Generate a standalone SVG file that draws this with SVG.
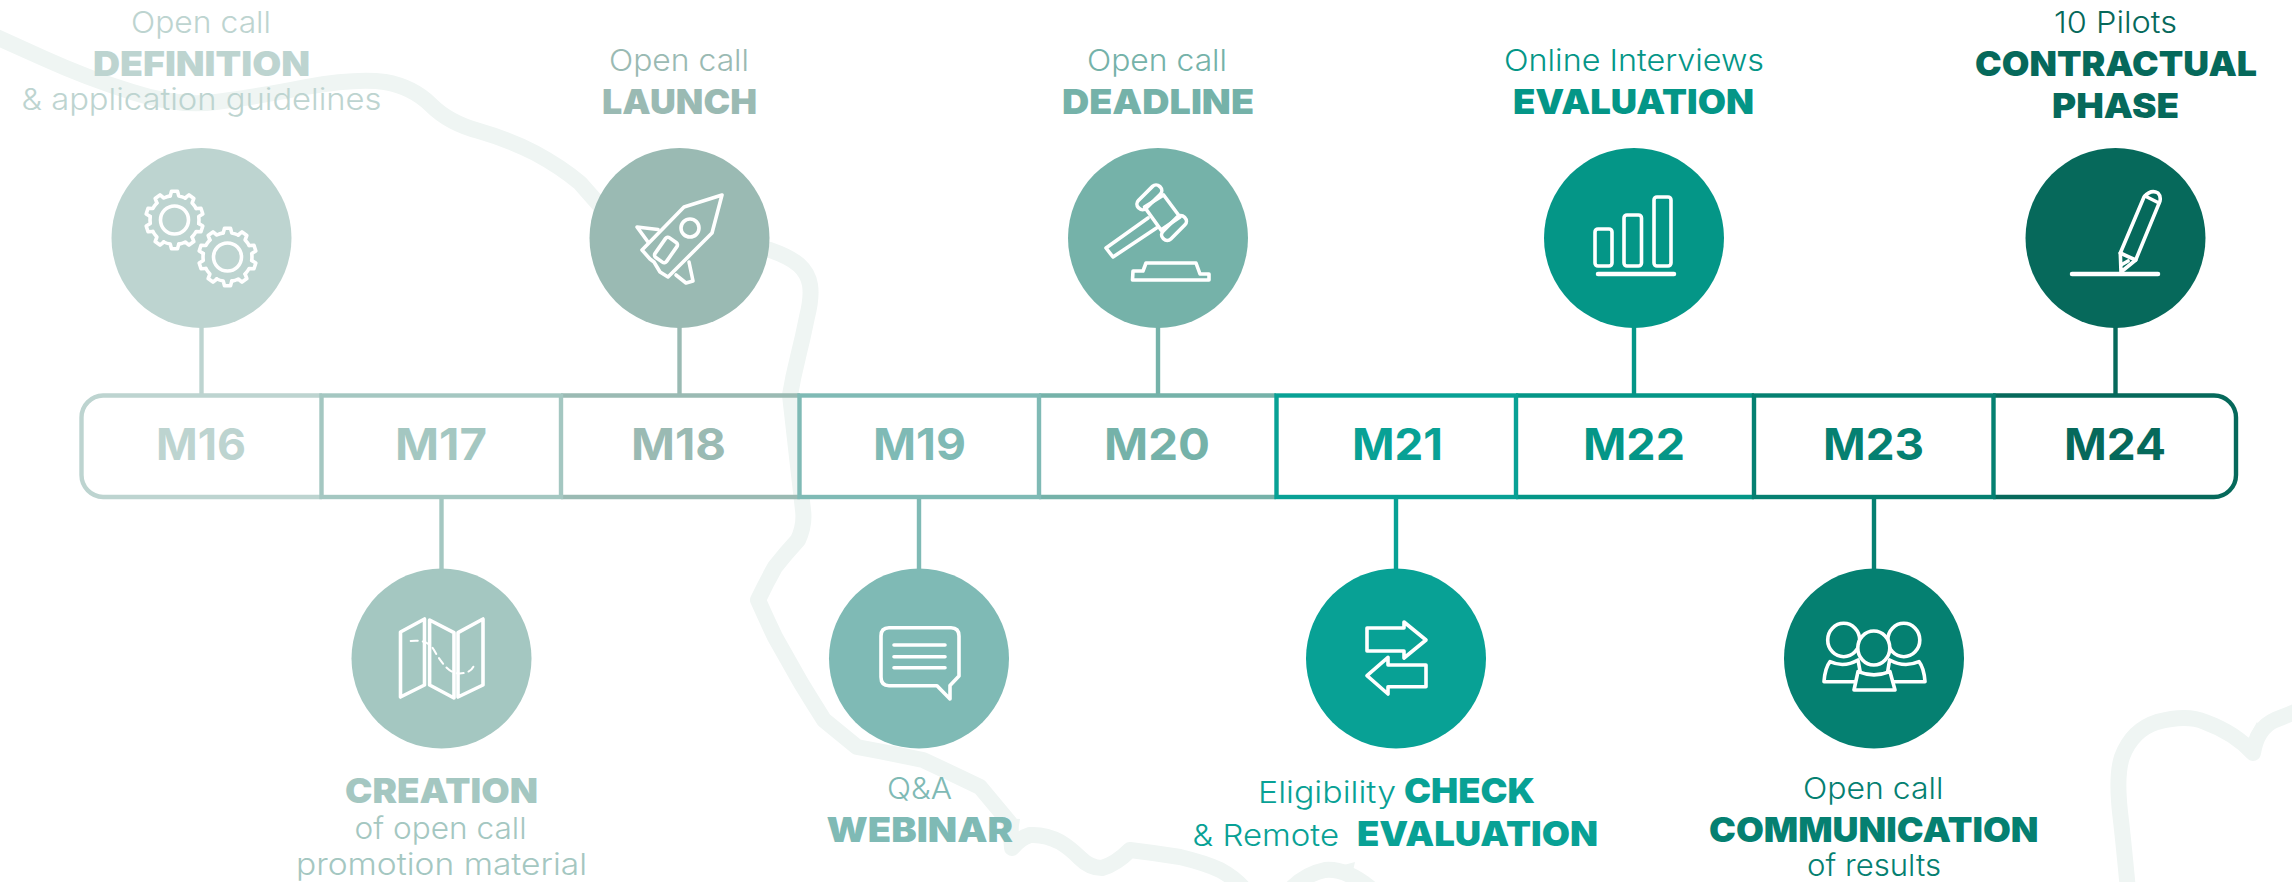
<svg xmlns="http://www.w3.org/2000/svg" xmlns:xlink="http://www.w3.org/1999/xlink" width="2292" height="882" viewBox="0 0 2292 882">
<style>
text{font-family:"Inter","Liberation Sans",sans-serif}
.l{font-size:30px;font-weight:300}
.b{font-size:34px;font-weight:900}
.m{font-size:44px;font-weight:700}
.wave{fill:none;stroke:#EFF5F3;stroke-width:16;stroke-linecap:round;stroke-linejoin:round}
.spike{fill:#EFF5F3}
.ic{fill:none;stroke:#fff;stroke-width:3.600;stroke-linejoin:round;stroke-linecap:round}
.cell{fill:none;stroke-width:4.400}
.conn{stroke-width:4.400;fill:none}
.k16{fill:#BDD4D0}.s16{stroke:#BDD4D0}
.k17{fill:#A4C7C1}.s17{stroke:#A4C7C1}
.k18{fill:#9ABAB3}.s18{stroke:#9ABAB3}
.k19{fill:#7FBAB5}.s19{stroke:#7FBAB5}
.k20{fill:#75B2A9}.s20{stroke:#75B2A9}
.k21{fill:#08A195}.s21{stroke:#08A195}
.k22{fill:#049687}.s22{stroke:#049687}
.k23{fill:#058071}.s23{stroke:#058071}
.k24{fill:#06695B}.s24{stroke:#06695B}
</style>
<defs>
<g id="gear">
<circle r="14" class="ic"/>
<g class="ic">
<path id="tooth" d="M-4.250-24.100L-3-28.800L3-28.800L4.250-24.100A24.500 24.500 0 0 1 10.740-22"/>
<use href="#tooth" transform="rotate(36)"/><use href="#tooth" transform="rotate(72)"/><use href="#tooth" transform="rotate(108)"/><use href="#tooth" transform="rotate(144)"/><use href="#tooth" transform="rotate(180)"/><use href="#tooth" transform="rotate(216)"/><use href="#tooth" transform="rotate(252)"/><use href="#tooth" transform="rotate(288)"/><use href="#tooth" transform="rotate(324)"/>
</g>
</g>
</defs>
<rect width="2292" height="882" fill="#fff"/>
<g id="background">
<path class="wave" d="M-8,35L43,58Q87,78 132,92Q178,107 216,102Q255,97 306,87Q357,78 385,82Q413,87 431,105Q449,123 479,131Q510,140 535,153Q561,167 580,183L602,208L700,240L770,250Q790,257 799,265Q808,273 810,285Q812,297 807,317Q803,337 798,357Q793,377 790,395L803,510Q805,525 798,540Q786,553 775,567Q766,583 758,600Q766,618 775,637Q788,660 801,683Q812,701 824,720Q840,733 857,747Q890,753 923,760Q951,773 980,787Q995,805 1010,823L1012,848Q1020,838 1030,835Q1045,834 1060,842Q1070,848 1080,858Q1090,868 1102,868Q1116,864 1130,850Q1155,853 1180,857Q1205,863 1220,870Q1235,878 1245,890"/>
<path class="spike" d="M1003,818L1020,819L1018,832L1012,848Z"/>
<path class="wave" d="M1290,890Q1305,874 1325,870Q1345,868 1370,888"/>
<path class="spike" d="M1340,866L1355,862L1352,875Z"/>
<path class="wave" d="M2128,890Q2123,837 2120,812Q2116,775 2122,757Q2132,730 2157,722Q2187,714 2205,722Q2235,733 2253,753Q2257,728 2275,720L2300,710"/>
<path class="spike" d="M2250,735L2257,722L2262,732Z"/>
</g>
<g id="connectors">
<path class="conn s16" d="M201.500,327V394"/>
<path class="conn s17" d="M441.500,497V569"/>
<path class="conn s18" d="M679.500,327V394"/>
<path class="conn s19" d="M919,497V569"/>
<path class="conn s20" d="M1158,327V394"/>
<path class="conn s21" d="M1396,497V569"/>
<path class="conn s22" d="M1634,327V394"/>
<path class="conn s23" d="M1874,497V569"/>
<path class="conn s24" d="M2115.500,327V394"/>
</g>
<g id="m16">
<path class="cell s16" style="fill:#fff" d="M322,395.500H103A22,22 0 0 0 81.500,417.500V475A22,22 0 0 0 103,497H322"/>
<text class="m k16" x="156" y="460" textLength="90" lengthAdjust="spacingAndGlyphs">M16</text>
<circle class="k16" cx="201.500" cy="238" r="90"/>
<use href="#gear" transform="translate(174.500,220)"/><use href="#gear" transform="translate(227.500,257)"/>
<text class="l k16" x="131" y="33" textLength="140" lengthAdjust="spacingAndGlyphs">Open call</text>
<text class="b k16" x="93" y="76" textLength="217" lengthAdjust="spacingAndGlyphs">DEFINITION</text>
<text class="l k16" x="21.500" y="110" textLength="360" lengthAdjust="spacingAndGlyphs">&amp; application guidelines</text>
</g>
<g id="m18">
<path class="cell s18" style="fill:#fff" d="M561,395.500H800M800,497H561"/>
<text class="m k18" x="631" y="460" textLength="95" lengthAdjust="spacingAndGlyphs">M18</text>
<circle class="k18" cx="679.500" cy="238" r="90"/>
<g class="ic">
<path d="M722,195L684,207L642,250L650,259L654,262L660,272L668,277L712,233Z"/>
<path d="M658,229.500L637,227L648,242"/><path d="M689,262L693,281L686,283L676,275"/>
<circle cx="690" cy="228" r="9"/>
<rect x="659" y="238" width="14" height="24" rx="3" transform="rotate(35 666 250)"/>
</g>
<text class="l k18" x="609" y="71" textLength="140" lengthAdjust="spacingAndGlyphs">Open call</text>
<text class="b k18" x="602" y="114" textLength="155" lengthAdjust="spacingAndGlyphs">LAUNCH</text>
</g>
<g id="m20">
<path class="cell s20" style="fill:#fff" d="M1039,395.500H1276M1276,497H1039"/>
<text class="m k20" x="1104" y="460" textLength="106" lengthAdjust="spacingAndGlyphs">M20</text>
<circle class="k20" cx="1158" cy="238" r="90"/>
<g class="ic">
<path d="M1148,218L1106,248L1113,257L1156.500,228"/>
<path d="M1144.500,207L1163.600,195L1180,217L1161,230Z"/>
<rect x="1134" y="192" width="30" height="11" rx="5" transform="rotate(-45 1149 197)"/>
<rect x="1159" y="222.500" width="30" height="11" rx="5" transform="rotate(-45 1174 228)"/>
<path d="M1132.500,280H1209V274H1200L1196,263H1146L1143,271H1133Z"/>
</g>
<text class="l k20" x="1087" y="71" textLength="140" lengthAdjust="spacingAndGlyphs">Open call</text>
<text class="b k20" x="1062" y="114" textLength="192" lengthAdjust="spacingAndGlyphs">DEADLINE</text>
</g>
<g id="m22">
<path class="cell s22" style="fill:#fff" d="M1516,395.500H1754M1754,497H1516"/>
<text class="m k22" x="1583" y="460" textLength="102" lengthAdjust="spacingAndGlyphs">M22</text>
<circle class="k22" cx="1634" cy="238" r="90"/>
<g class="ic">
<rect x="1595" y="229" width="17" height="37" rx="3"/>
<rect x="1624" y="215" width="17.500" height="51" rx="3"/>
<rect x="1654" y="197" width="17" height="69" rx="3"/>
<path d="M1598,274H1674" style="stroke-width:4.500"/>
</g>
<text class="l k22" x="1504" y="71" textLength="260" lengthAdjust="spacingAndGlyphs">Online Interviews</text>
<text class="b k22" x="1513" y="114" textLength="241" lengthAdjust="spacingAndGlyphs">EVALUATION</text>
</g>
<g id="m24">
<path class="cell s24" style="fill:#fff" d="M1993,395.500H2214A22,22 0 0 1 2236,417.500V475A22,22 0 0 1 2214,497H1993"/>
<text class="m k24" x="2064" y="460" textLength="102" lengthAdjust="spacingAndGlyphs">M24</text>
<circle class="k24" cx="2115.500" cy="238" r="90"/>
<g class="ic">
<path d="M2120.300,253L2144,197Q2151,189 2158,193Q2161,196 2160,201L2135.700,260L2121,272Z"/>
<path d="M2120.300,253L2135.700,260M2145,196L2159,203M2121,265L2128,261"/>
<path d="M2072,274H2158" style="stroke-width:4.500"/>
</g>
<text class="l k24" x="2054" y="33" textLength="123" lengthAdjust="spacingAndGlyphs">10 Pilots</text>
<text class="b k24" x="1975" y="76" textLength="282" lengthAdjust="spacingAndGlyphs">CONTRACTUAL</text>
<text class="b k24" x="2052" y="118" textLength="127" lengthAdjust="spacingAndGlyphs">PHASE</text>
</g>
<g id="m17">
<rect class="cell s17" style="fill:#fff" x="321.500" y="395.500" width="239.500" height="101.500"/>
<text class="m k17" x="395" y="460" textLength="92" lengthAdjust="spacingAndGlyphs">M17</text>
<circle class="k17" cx="441.500" cy="658.500" r="90"/>
<g class="ic">
<path d="M400.500,632L424.500,619V685L400.500,697Z"/>
<path d="M429.600,620L454,632.700V698L429.600,685Z"/>
<path d="M458,632.700L483,619V685L458,697Z"/>
<path d="M410.700,641Q428,639 434,650T447,668T464,673T474.500,662" style="stroke-width:2;stroke-dasharray:7 5"/>
</g>
<text class="b k17" x="345" y="803" textLength="193" lengthAdjust="spacingAndGlyphs">CREATION</text>
<text class="l k17" x="354.600" y="839" textLength="172" lengthAdjust="spacingAndGlyphs">of open call</text>
<text class="l k17" x="296" y="875" textLength="291" lengthAdjust="spacingAndGlyphs">promotion material</text>
</g>
<g id="m19">
<rect class="cell s19" style="fill:#fff" x="799.500" y="395.500" width="239.500" height="101.500"/>
<text class="m k19" x="873" y="460" textLength="93" lengthAdjust="spacingAndGlyphs">M19</text>
<circle class="k19" cx="919" cy="658.500" r="90"/>
<g class="ic">
<path d="M889,627.700H951Q959,627.700 959,636V676L950,685.500V699L937,685.700H889Q881,685.700 881,677V636Q881,627.700 889,627.700Z"/>
<path d="M894,645H945M894,656.700H945M894,667.700H945"/>
</g>
<text class="l k19" x="887" y="799" textLength="65" lengthAdjust="spacingAndGlyphs">Q&amp;A</text>
<text class="b k19" x="826.500" y="842" textLength="186.500" lengthAdjust="spacingAndGlyphs">WEBINAR</text>
</g>
<g id="m21">
<rect class="cell s21" style="fill:#fff" x="1276.500" y="395.500" width="239.500" height="101.500"/>
<text class="m k21" x="1352" y="460" textLength="91" lengthAdjust="spacingAndGlyphs">M21</text>
<circle class="k21" cx="1396" cy="658.500" r="90"/>
<g class="ic">
<path d="M1367,628H1404V622L1426,640L1404,658V651H1367Z"/>
<path d="M1426,665H1388V657.300L1367,675.700L1388,694V686.700H1426Z"/>
</g>
<text class="l k21" x="1258" y="803" textLength="138" lengthAdjust="spacingAndGlyphs">Eligibility</text>
<text class="b k21" x="1404" y="803" textLength="131" lengthAdjust="spacingAndGlyphs">CHECK</text>
<text class="l k21" x="1192.600" y="846" textLength="146.400" lengthAdjust="spacingAndGlyphs">&amp; Remote</text>
<text class="b k21" x="1357" y="846" textLength="241" lengthAdjust="spacingAndGlyphs">EVALUATION</text>
</g>
<g id="m23">
<rect class="cell s23" style="fill:#fff" x="1754" y="395.500" width="239.500" height="101.500"/>
<text class="m k23" x="1823" y="460" textLength="101" lengthAdjust="spacingAndGlyphs">M23</text>
<circle class="k23" cx="1874" cy="658.500" r="90"/>
<g class="ic">
<path d="M1824,681.700Q1825,668 1830,661.700Q1844,668 1858,660L1862,681.700Z"/>
<path d="M1925,681.700Q1924,668 1919,661.700Q1904,668 1889.600,660L1886,681.700Z"/>
<ellipse cx="1843.700" cy="640" rx="16" ry="16.700"/>
<ellipse cx="1903.800" cy="640" rx="16" ry="16.700"/>
<ellipse class="k23" cx="1873.800" cy="648" rx="16" ry="17"/>
<path class="k23" d="M1854,690L1858,671.700Q1874,678 1890,671.700L1895,690Z"/>
</g>
<text class="l k23" x="1803" y="799" textLength="140.500" lengthAdjust="spacingAndGlyphs">Open call</text>
<text class="b k23" x="1709" y="842" textLength="329.500" lengthAdjust="spacingAndGlyphs">COMMUNICATION</text>
<text class="l k23" x="1807" y="876" textLength="134" lengthAdjust="spacingAndGlyphs">of results</text>
</g>
</svg>
